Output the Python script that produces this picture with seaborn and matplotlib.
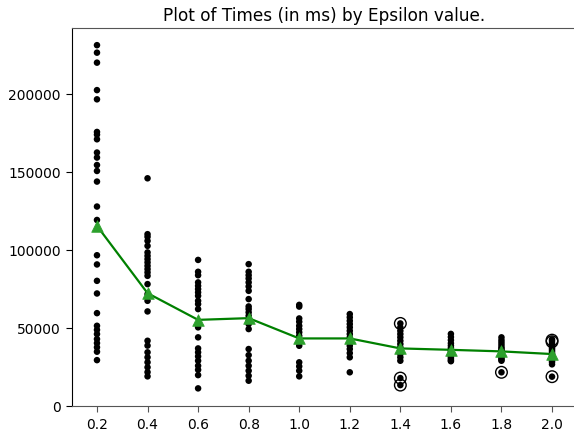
import numpy as np
import pandas as pd
import matplotlib
matplotlib.use("Agg")
import matplotlib.pyplot as plt
import seaborn as sns

epsilons = [0.2, 0.4, 0.6, 0.8, 1.0, 1.2, 1.4, 1.6, 1.8, 2.0]
tick_labels = ["0.2", "0.4", "0.6", "0.8", "1.0", "1.2", "1.4", "1.6", "1.8", "2.0"]

times_02 = [231000, 226200, 219800, 202200, 196300, 175400, 173700, 170700, 162200,
            159000, 154200, 150400, 143600, 127600, 119000, 96400, 90500, 80000,
            71900, 59300, 51200, 48600, 45900, 42700, 40100, 37400, 34600, 29200]
times_04 = [145700, 109900, 108200, 105600, 102400, 98200, 96000, 93900, 91800, 89600,
            87500, 85400, 83200, 77900, 71500, 67200, 60400, 41600, 38500, 34200,
            31000, 27800, 24600, 21500, 18800]
times_06 = [93400, 85800, 83600, 79000, 76800, 74700, 72600, 70400, 67200, 65100,
            61900, 52300, 50200, 43800, 36700, 34200, 31600, 28800, 25600, 23000,
            19600, 11100]
times_08 = [90700, 85800, 83600, 81500, 79000, 76400, 73600, 68300, 63600, 61900,
            59800, 57600, 54400, 52300, 49100, 36300, 32400, 28800, 25600, 22400,
            19200, 16000]
times_10 = [64600, 63500, 55900, 53800, 51200, 49100, 47000, 44800, 40600, 38400,
            27800, 25200, 22400, 18800]
times_12 = [58700, 56600, 54400, 52300, 50200, 48000, 45900, 43800, 40600, 38400,
            36300, 33700, 31000, 21400]
times_14 = [52700, 50200, 48000, 45900, 43800, 41600, 39500, 37400, 35200, 33100,
            31000, 28800, 17700, 13200]
times_16 = [46000, 44000, 42000, 40000, 38500, 37000, 36000, 35000, 34000, 33000,
            32000, 31000, 30000, 29000, 28500]
times_18 = [43800, 42000, 40500, 39000, 37500, 36500, 35500, 34500, 33500, 32500,
            31500, 30500, 29500, 28800, 21400]
times_20 = [42500, 41500, 40000, 38500, 37000, 36000, 35000, 34000, 33000, 32000,
            31000, 30000, 29000, 28000, 26500, 18600]

mean_times = [115200, 72100, 55000, 56100, 43100, 43100, 36700, 35800, 34800, 33100]

flier_eps = [1.4, 1.4, 1.4, 1.8, 2.0, 2.0, 2.0]
flier_times = [52700, 17700, 13200, 21400, 42000, 41000, 18600]

all_times = [times_02, times_04, times_06, times_08, times_10,
             times_12, times_14, times_16, times_18, times_20]

points = pd.DataFrame({
    "eps": np.concatenate([[e] * len(t) for e, t in zip(epsilons, all_times)]),
    "time": np.concatenate(all_times),
})
means = pd.DataFrame({"eps": epsilons, "time": mean_times})
fliers = pd.DataFrame({"eps": flier_eps, "time": flier_times})

W, H = 574, 431
fig = plt.figure(figsize=(W / 100, H / 100), dpi=100)
left, right, bottom, top = 71.7, 577.3, 406.7, 29.0
ax = fig.add_axes([left / W, (H - bottom) / H, (right - left) / W, (bottom - top) / H])

sns.scatterplot(data=fliers, x="eps", y="time", ax=ax, marker="o", s=70,
                facecolors="none", edgecolor="black", linewidth=1.0, zorder=2)
sns.scatterplot(data=points, x="eps", y="time", ax=ax, color="black", s=22,
                edgecolor="none", linewidth=0, zorder=3)
sns.lineplot(data=means, x="eps", y="time", ax=ax, color="green", linewidth=1.6,
             zorder=4, errorbar=None)
sns.scatterplot(data=means, x="eps", y="time", ax=ax, marker="^", s=70,
                color="#2ca02c", edgecolor="#2ca02c", linewidth=0.5, zorder=5)

ax.set_xlim(0.1, 2.1)
ax.set_ylim(0, 242000)
ax.set_xticks(epsilons)
ax.set_xticklabels(tick_labels)
ax.set_yticks([0, 50000, 100000, 150000, 200000])
ax.set_yticklabels(["0", "50000", "100000", "150000", "200000"])
ax.set_xlabel("")
ax.set_ylabel("")
ax.tick_params(axis="both", labelsize=10, length=4.5, width=0.8)
ax.tick_params(axis="x", color="#555555")
ax.spines["right"].set_visible(False)
ax.spines["left"].set_color("black")
ax.spines["top"].set_color("#555555")
ax.spines["bottom"].set_color("#555555")
ax.set_title("Plot of Times (in ms) by Epsilon value.", fontsize=12.2, pad=6)

fig.savefig("out.png", dpi=100)
